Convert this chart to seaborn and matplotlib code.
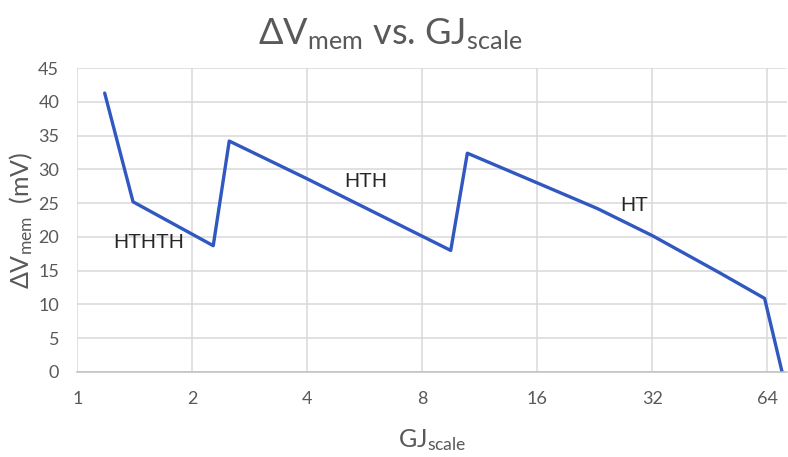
import numpy as np
import pandas as pd
import matplotlib
matplotlib.use('Agg')
import matplotlib.pyplot as plt
from matplotlib.ticker import FixedLocator, FixedFormatter, NullLocator
import seaborn as sns

# data
gj_scale = [1.18, 1.40, 2.27, 2.5, 4.0, 9.5, 10.5, 16.0, 23.0, 32.0, 48.0, 63.0, 70.0]
dv_mem = [41.3, 25.2, 18.7, 34.2, 28.6, 18.0, 32.4, 28.0, 24.2, 20.2, 14.7, 10.9, 0.0]
x_ticks = [1, 2, 4, 8, 16, 32, 64]
y_ticks = list(range(0, 50, 5))
labels = ['HTHTH', 'HTH', 'HT']
label_x = [1.54, 5.7, 28.7]
label_y = [19.2, 28.2, 24.6]

df = pd.DataFrame({'GJ': gj_scale, 'dV': dv_mem})

sns.set_style('white')
plt.rcParams['font.family'] = ['Lato', 'DejaVu Sans']
plt.rcParams['mathtext.fontset'] = 'custom'
plt.rcParams['mathtext.rm'] = 'Lato'
plt.rcParams['mathtext.fallback'] = 'stixsans'

fig = plt.figure(figsize=(7.88, 4.57), dpi=100)
ax = fig.add_axes([0.098, 0.186, 0.901, 0.665])

sns.lineplot(data=df, x='GJ', y='dV', ax=ax, color='#3158c0', linewidth=2.4, sort=False)

ax.set_xscale('log', base=2)
ax.set_xlim(1, 72.2)
ax.set_ylim(0, 45)
ax.xaxis.set_major_locator(FixedLocator(x_ticks))
ax.xaxis.set_major_formatter(FixedFormatter([str(t) for t in x_ticks]))
ax.xaxis.set_minor_locator(NullLocator())
ax.set_yticks(y_ticks)

ax.grid(True, color='#d9d9d9', linewidth=1.1)
ax.set_axisbelow(True)
for s in ['top', 'right', 'left']:
    ax.spines[s].set_visible(False)
ax.spines['bottom'].set_color('#bfbfbf')
ax.spines['bottom'].set_linewidth(1.1)

ax.tick_params(axis='both', length=0, labelsize=13, labelcolor='#595959')
ax.tick_params(axis='x', pad=14)
ax.tick_params(axis='y', pad=13)

ax.set_xlabel(r'$\mathregular{GJ_{scale}}$', fontsize=18, color='#595959', labelpad=14)
ax.set_ylabel(r'$\mathregular{\Delta V_{mem}}$  (mV)', fontsize=18, color='#595959', labelpad=2)
fig.suptitle(r'$\mathregular{\Delta V_{mem}}$ vs. $\mathregular{GJ_{scale}}$',
             x=0.495, y=0.965, fontsize=26, color='#595959')

for t, xv, yv in zip(labels, label_x, label_y):
    ax.text(xv, yv, t, ha='center', va='center', fontsize=15,
            color='#262626', family=['Liberation Sans', 'DejaVu Sans'])

fig.savefig('out.png', dpi=100)
